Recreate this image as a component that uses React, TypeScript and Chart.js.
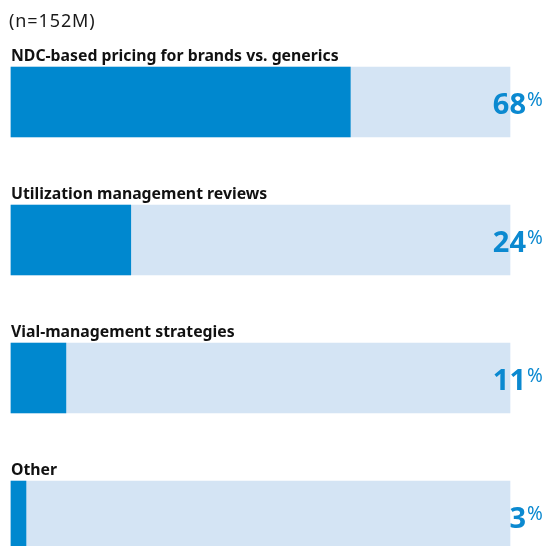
import { useEffect, useRef } from "react";
import { Chart, registerables } from "chart.js";

Chart.register(...registerables);

const sampleNote = "(n=152M)";
const categories = [
  "NDC-based pricing for brands vs. generics",
  "Utilization management reviews",
  "Vial-management strategies",
  "Other",
];
const shares = [68, 24, 11, 3];
const trackMax = 100;

const FILL = "#0088CF";
const TRACK = "#D4E4F4";
const VALUE_TEXT = "#0B89D0";
const FONT = '"Noto Sans", "Open Sans", sans-serif';

const labelPlugin = {
  id: "barLabels",
  afterDatasetsDraw(chart: any) {
    const { ctx } = chart;
    const bars = chart.getDatasetMeta(0).data;
    const tracks = chart.getDatasetMeta(1).data;
    ctx.save();
    ctx.textBaseline = "alphabetic";

    // sample size note
    ctx.fillStyle = "#1a1a1a";
    ctx.textAlign = "left";
    ctx.font = `18px ${FONT}`;
    ctx.letterSpacing = "0.9px";
    ctx.fillText(sampleNote, 9, 27);
    ctx.letterSpacing = "0px";

    bars.forEach((bar: any, i: number) => {
      const { y, height, base } = bar.getProps(["y", "height", "base"], true);
      const top = y - height / 2;

      // category caption above each bar
      ctx.fillStyle = "#111111";
      ctx.textAlign = "left";
      ctx.font = `bold 15.8px ${FONT}`;
      ctx.fillText(categories[i], base, top - 6);

      // value at the right end of the track
      const trackEnd = tracks[i].getProps(["x"], true).x;
      ctx.fillStyle = VALUE_TEXT;
      ctx.textAlign = "right";
      ctx.font = `bold 29px ${FONT}`;
      ctx.fillText(String(shares[i]), trackEnd + 16, y + 12);
      ctx.textAlign = "left";
      ctx.font = `19px ${FONT}`;
      ctx.fillText("%", trackEnd + 17, y + 4);
    });
    ctx.restore();
  },
};

export default function App() {
  const canvasRef = useRef<HTMLCanvasElement | null>(null);

  useEffect(() => {
    if (!canvasRef.current) return;
    const chart = new Chart(canvasRef.current, {
      type: "bar",
      data: {
        labels: categories,
        datasets: [
          {
            data: shares,
            backgroundColor: FILL,
            barThickness: 70,
            grouped: false,
            clip: false,
          },
          {
            data: categories.map(() => trackMax),
            backgroundColor: TRACK,
            barThickness: 70,
            grouped: false,
            clip: false,
          },
        ],
      },
      options: {
        indexAxis: "y",
        responsive: false,
        animation: false,
        layout: { padding: { left: 11, right: 38, top: 102, bottom: 30 } },
        scales: {
          x: { min: 0, max: trackMax, display: false },
          y: { display: false, offset: false },
        },
        plugins: {
          legend: { display: false },
          tooltip: { enabled: false },
        },
      },
      plugins: [labelPlugin],
    });
    return () => chart.destroy();
  }, []);

  return (
    <div style={{ position: "absolute", left: 0, top: 0, width: 548, height: 546, background: "#fff" }}>
      <canvas ref={canvasRef} width={548} height={546} />
    </div>
  );
}
